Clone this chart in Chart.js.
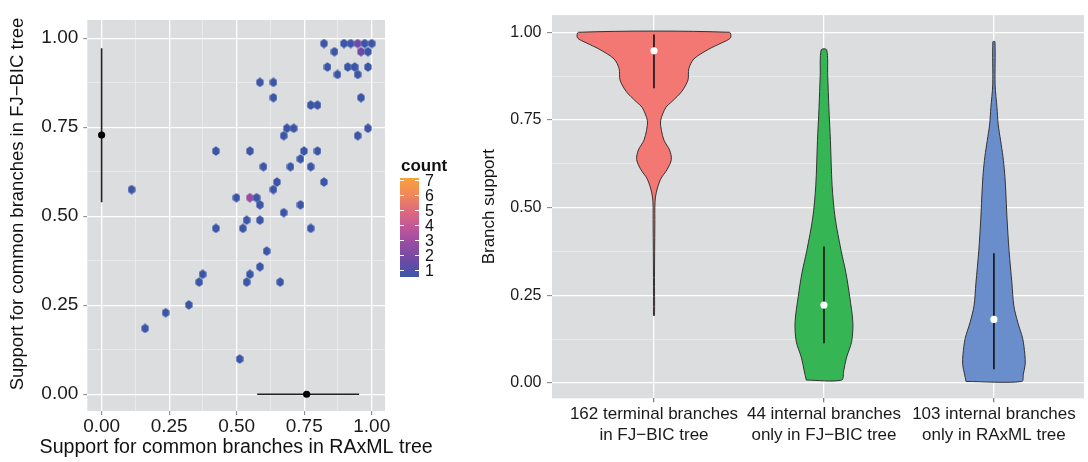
<!DOCTYPE html>
<html>
<head>
<meta charset="utf-8">
<title>Branch support</title>
<script src="https://cdn.jsdelivr.net/npm/chart.js@4.4.1/dist/chart.umd.min.js"></script>
<style>
  html, body { margin: 0; padding: 0; background: #fff; }
  body { width: 1088px; height: 462px; position: relative; overflow: hidden; font-family: "Liberation Sans", Arial, sans-serif; }
  #hexWrap { position: absolute; left: 0; top: 0; width: 470px; height: 462px; }
  #violinWrap { position: absolute; left: 470px; top: 0; width: 618px; height: 462px; }
  #legend { position: absolute; left: 400px; top: 156px; width: 70px; height: 130px; color: #111; }
  #legend .title { position: absolute; left: 1px; top: 0; font-weight: bold; font-size: 17px; }
  #legend .bar { position: absolute; left: 0; top: 22px; width: 19px; height: 99px; }
  #legend .lab { position: absolute; left: 25px; font-size: 16px; line-height: 16px; }
  #legend .tk { position: absolute; width: 4px; height: 1px; background: #fff; }
</style>
</head>
<body>
<div id="hexWrap"><canvas id="hexChart"></canvas></div>
<div id="legend"></div>
<div id="violinWrap"><canvas id="violinChart"></canvas></div>
<script>
// ---- left panel: hexbin of support values (RAxML vs FJ-BIC) ----
const hexX = [
  0.823, 0.897, 0.922, 0.948, 0.974, 1.000,
  0.862, 0.960, 0.986,
  0.836, 0.911, 0.937, 0.986,
  0.873, 0.948,
  0.586, 0.636,
  0.636, 0.960,
  0.774, 0.799,
  0.686, 0.711, 0.986,
  0.674, 0.948,
  0.423, 0.549, 0.749, 0.799,
  0.736,
  0.599, 0.699, 0.774,
  0.649, 0.823,
  0.111, 0.636,
  0.499, 0.549, 0.574,
  0.586, 0.736,
  0.674,
  0.537, 0.586,
  0.423, 0.523, 0.774,
  0.611,
  0.586,
  0.374, 0.549,
  0.361, 0.537, 0.661,
  0.323,
  0.237,
  0.161,
  0.511
];
const hexY = [
  0.985, 0.985, 0.985, 0.985, 0.985, 0.985,
  0.962, 0.962, 0.962,
  0.919, 0.919, 0.919, 0.919,
  0.898, 0.898,
  0.876, 0.876,
  0.833, 0.833,
  0.812, 0.812,
  0.747, 0.747, 0.747,
  0.726, 0.726,
  0.683, 0.683, 0.683, 0.683,
  0.661,
  0.639, 0.639, 0.639,
  0.596, 0.596,
  0.575, 0.575,
  0.552, 0.552, 0.552,
  0.532, 0.532,
  0.510,
  0.489, 0.489,
  0.466, 0.466, 0.466,
  0.402,
  0.358,
  0.337, 0.337,
  0.315, 0.315, 0.315,
  0.251,
  0.229,
  0.185,
  0.099
];
const hexCount = [
  1, 1, 1, 2, 1, 1,
  1, 2, 1,
  1, 1, 1, 1,
  1, 1,
  1, 1,
  1, 1,
  1, 1,
  1, 1, 1,
  1, 1,
  1, 1, 1, 1,
  1,
  1, 1, 1,
  1, 1,
  1, 1,
  1, 3, 1,
  1, 1,
  1,
  1, 1,
  1, 1, 1,
  1,
  1,
  1, 1,
  1, 1, 1,
  1,
  1,
  1,
  1
];
// summary bars drawn on the axes (mean and range)
const ySummary = { x: 0, lo: 0.539, mid: 0.728, hi: 0.972 };
const xSummary = { y: 0, lo: 0.576, mid: 0.759, hi: 0.953 };

const countLevels = [7, 6, 5, 4, 3, 2, 1];
const countColors = { 1: '#3c56a7', 2: '#6d4aa6', 3: '#944da2', 4: '#c0569a', 5: '#de6a7b', 6: '#f0885a', 7: '#f9a23a' };
const supportTicks = [0, 0.125, 0.25, 0.375, 0.5, 0.625, 0.75, 0.875, 1];
const hexTitleX = 'Support for common branches in RAxML tree';
const hexTitleY = 'Support for common branches in FJ\u2212BIC tree';

// ---- right panel: violins ----
const groupLabels = [
  ['162 terminal branches', 'in FJ\u2212BIC tree'],
  ['44 internal branches', 'only in FJ\u2212BIC tree'],
  ['103 internal branches', 'only in RAxML tree']
];
const groupColors = ['#f37772', '#35b553', '#6a8dcb'];
// outline: support levels (bottom to top) and half width in category units
const redLevels = [0.192, 0.30, 0.45, 0.516, 0.544, 0.581, 0.609, 0.637, 0.664, 0.692, 0.720, 0.748, 0.785, 0.803, 0.831, 0.864, 0.896, 0.924, 0.952, 0.970, 0.984, 1.000];
const redHalf   = [0.003, 0.003, 0.005, 0.006, 0.014, 0.039, 0.078, 0.102, 0.092, 0.059, 0.044, 0.039, 0.069, 0.107, 0.163, 0.200, 0.205, 0.235, 0.323, 0.399, 0.450, 0.444];
const greenLevels = [0.008, 0.034, 0.071, 0.118, 0.173, 0.247, 0.312, 0.377, 0.470, 0.563, 0.692, 0.785, 0.877, 0.950];
const greenHalf   = [0.104, 0.116, 0.132, 0.163, 0.170, 0.151, 0.130, 0.101, 0.066, 0.048, 0.038, 0.029, 0.022, 0.016];
const blueLevels = [0.004, 0.025, 0.053, 0.081, 0.127, 0.173, 0.220, 0.284, 0.377, 0.470, 0.553, 0.599, 0.646, 0.692, 0.738, 0.785, 0.850, 0.973];
const blueHalf   = [0.164, 0.173, 0.184, 0.182, 0.169, 0.140, 0.117, 0.106, 0.089, 0.077, 0.069, 0.063, 0.053, 0.039, 0.025, 0.018, 0.007, 0.006];
const medians = [0.947, 0.222, 0.181];
const q1s = [0.840, 0.113, 0.039];
const q3s = [0.994, 0.389, 0.370];

const FONT = '"Liberation Sans", Arial, sans-serif';

// gray panel like ggplot
const panelBg = {
  id: 'panelBg',
  beforeDraw(chart) {
    const a = chart.chartArea, ctx = chart.ctx;
    ctx.save();
    ctx.fillStyle = '#dcdddf';
    ctx.fillRect(a.left, a.top, a.right - a.left, a.bottom - a.top);
    ctx.restore();
  }
};

// axis titles of the hexbin panel (wider than the panel, so drawn here)
const hexTitles = {
  id: 'hexTitles',
  afterDraw(chart) {
    const a = chart.chartArea, ctx = chart.ctx;
    ctx.save();
    ctx.fillStyle = '#111';
    ctx.textAlign = 'center';
    ctx.textBaseline = 'middle';
    ctx.font = '19.6px ' + FONT;
    ctx.fillText(hexTitleX, (a.left + a.right) / 2, 447.5);
    ctx.translate(18, 204);
    ctx.rotate(-Math.PI / 2);
    ctx.font = '18.5px ' + FONT;
    ctx.fillText(hexTitleY, 0, 0);
    ctx.restore();
  }
};

function isMajor(v) {
  return Math.abs(v * 4 - Math.round(v * 4)) < 1e-6;
}

function hexImage(color) {
  const c = document.createElement('canvas');
  c.width = 8; c.height = 10;
  const g = c.getContext('2d');
  const w = 3.6, h = 4.7;
  g.beginPath();
  g.moveTo(4, 5 - h);
  g.lineTo(4 + w, 5 - h / 2);
  g.lineTo(4 + w, 5 + h / 2);
  g.lineTo(4, 5 + h);
  g.lineTo(4 - w, 5 + h / 2);
  g.lineTo(4 - w, 5 - h / 2);
  g.closePath();
  g.fillStyle = color;
  g.fill();
  return c;
}
const hexImages = {};
Object.keys(countColors).forEach(k => { hexImages[k] = hexImage(countColors[k]); });

function supportAxis(min, max, fontSize, tickLen, pad) {
  return {
    type: 'linear',
    min: min,
    max: max,
    afterBuildTicks: s => { s.ticks = supportTicks.map(v => ({ value: v })); },
    border: { display: false },
    grid: {
      color: c => isMajor(c.tick.value) ? '#ffffff' : '#eeeff0',
      lineWidth: c => isMajor(c.tick.value) ? 1.3 : 0.7,
      tickColor: c => isMajor(c.tick.value) ? '#7f7f7f' : 'rgba(0,0,0,0)',
      tickLength: tickLen,
      tickWidth: 1
    },
    ticks: {
      autoSkip: false,
      maxRotation: 0,
      padding: pad,
      color: '#1a1a1a',
      font: { family: FONT, size: fontSize },
      callback: v => isMajor(v) ? v.toFixed(2) : ''
    }
  };
}

// ---------- hexbin chart ----------
const hexPoints = hexX.map((x, i) => ({ x: x, y: hexY[i], c: hexCount[i] }));

const hexXAxis = supportAxis(-0.053, 1.049, 19, 4, 0.5);
hexXAxis.afterFit = s => { s.height = 51; };
const hexYAxis = supportAxis(-0.047, 1.051, 19, 4, 5);
hexYAxis.afterFit = s => { s.width = 87.3; };

new Chart(document.getElementById('hexChart'), {
  type: 'scatter',
  data: {
    datasets: [
      {
        data: [{ x: ySummary.x, y: ySummary.mid }, { x: xSummary.mid, y: xSummary.y }],
        pointRadius: 3.6,
        pointBackgroundColor: '#000',
        pointBorderWidth: 0,
        order: 0
      },
      {
        data: [{ x: ySummary.x, y: ySummary.lo }, { x: ySummary.x, y: ySummary.hi }],
        showLine: true,
        borderColor: '#222',
        borderWidth: 1.6,
        pointRadius: 0,
        order: 1
      },
      {
        data: [{ x: xSummary.lo, y: xSummary.y }, { x: xSummary.hi, y: xSummary.y }],
        showLine: true,
        borderColor: '#222',
        borderWidth: 1.6,
        pointRadius: 0,
        order: 1
      },
      {
        data: hexPoints,
        pointStyle: c => hexImages[c.raw ? c.raw.c : 1],
        pointRadius: 4,
        order: 2
      }
    ]
  },
  options: {
    responsive: true,
    maintainAspectRatio: false,
    animation: false,
    events: [],
    layout: { padding: { top: 20, right: 85, left: 0, bottom: 0 } },
    scales: { x: hexXAxis, y: hexYAxis },
    plugins: { legend: { display: false }, tooltip: { enabled: false } }
  },
  plugins: [panelBg, hexTitles]
});

// colour bar legend for counts
const legend = document.getElementById('legend');
legend.innerHTML = '<div class="title">count</div>';
const bar = document.createElement('div');
bar.className = 'bar';
bar.style.background = 'linear-gradient(to bottom, ' + countLevels.map(k => countColors[k]).join(', ') + ')';
legend.appendChild(bar);
countLevels.forEach((k, i) => {
  const yc = 22 + 2.7 + i * 15;
  const lab = document.createElement('div');
  lab.className = 'lab';
  lab.textContent = k;
  lab.style.top = (yc - 8) + 'px';
  legend.appendChild(lab);
  [0, 15].forEach(xl => {
    const t = document.createElement('div');
    t.className = 'tk';
    t.style.left = xl + 'px';
    t.style.top = (yc - 0.5) + 'px';
    legend.appendChild(t);
  });
});

// ---------- violin chart ----------
function outline(center, levels, half) {
  const pts = [];
  for (let i = 0; i < levels.length; i++) pts.push({ x: center - half[i], y: levels[i] });
  for (let i = levels.length - 1; i >= 0; i--) pts.push({ x: center + half[i], y: levels[i] });
  pts.push({ x: center - half[0], y: levels[0] });
  return pts;
}
const shapes = [[redLevels, redHalf], [greenLevels, greenHalf], [blueLevels, blueHalf]];
const violinSets = [];
shapes.forEach((s, i) => {
  violinSets.push({
    data: outline(i + 1, s[0], s[1]),
    showLine: true,
    fill: 'shape',
    backgroundColor: groupColors[i],
    borderColor: '#333333',
    borderWidth: 1,
    pointRadius: 0,
    tension: 0.3,
    order: 3
  });
  violinSets.push({
    data: [{ x: i + 1, y: q1s[i] }, { x: i + 1, y: q3s[i] }],
    showLine: true,
    borderColor: '#111',
    borderWidth: 1.6,
    pointRadius: 0,
    order: 2
  });
  violinSets.push({
    data: [{ x: i + 1, y: medians[i] }],
    pointRadius: 3.6,
    pointBackgroundColor: '#ffffff',
    pointBorderWidth: 0,
    order: 1
  });
});

const vY = supportAxis(-0.044, 1.049, 16, 5, 5.5);
vY.afterFit = s => { s.width = 82; };
vY.title = {
  display: true,
  text: 'Branch support',
  color: '#111',
  font: { family: FONT, size: 17, lineHeight: 1.2 },
  padding: { top: 8.8, bottom: 0 }
};

new Chart(document.getElementById('violinChart'), {
  type: 'scatter',
  data: { datasets: violinSets },
  options: {
    responsive: true,
    maintainAspectRatio: false,
    animation: false,
    events: [],
    layout: { padding: { top: 5, right: 2, left: 0, bottom: 0 } },
    scales: {
      x: {
        type: 'linear',
        min: 0.4,
        max: 3.53,
        afterBuildTicks: s => { s.ticks = [1, 2, 3].map(v => ({ value: v })); },
        afterFit: s => { s.height = 63.7; },
        border: { display: false },
        grid: { color: '#ffffff', lineWidth: 1.3, tickColor: '#7f7f7f', tickLength: 4 },
        ticks: {
          autoSkip: false,
          maxRotation: 0,
          padding: 2,
          color: '#1a1a1a',
          font: { family: FONT, size: 17, lineHeight: 1.2 },
          callback: v => groupLabels[v - 1]
        }
      },
      y: vY
    },
    plugins: { legend: { display: false }, tooltip: { enabled: false } }
  },
  plugins: [panelBg]
});
</script>
</body>
</html>
